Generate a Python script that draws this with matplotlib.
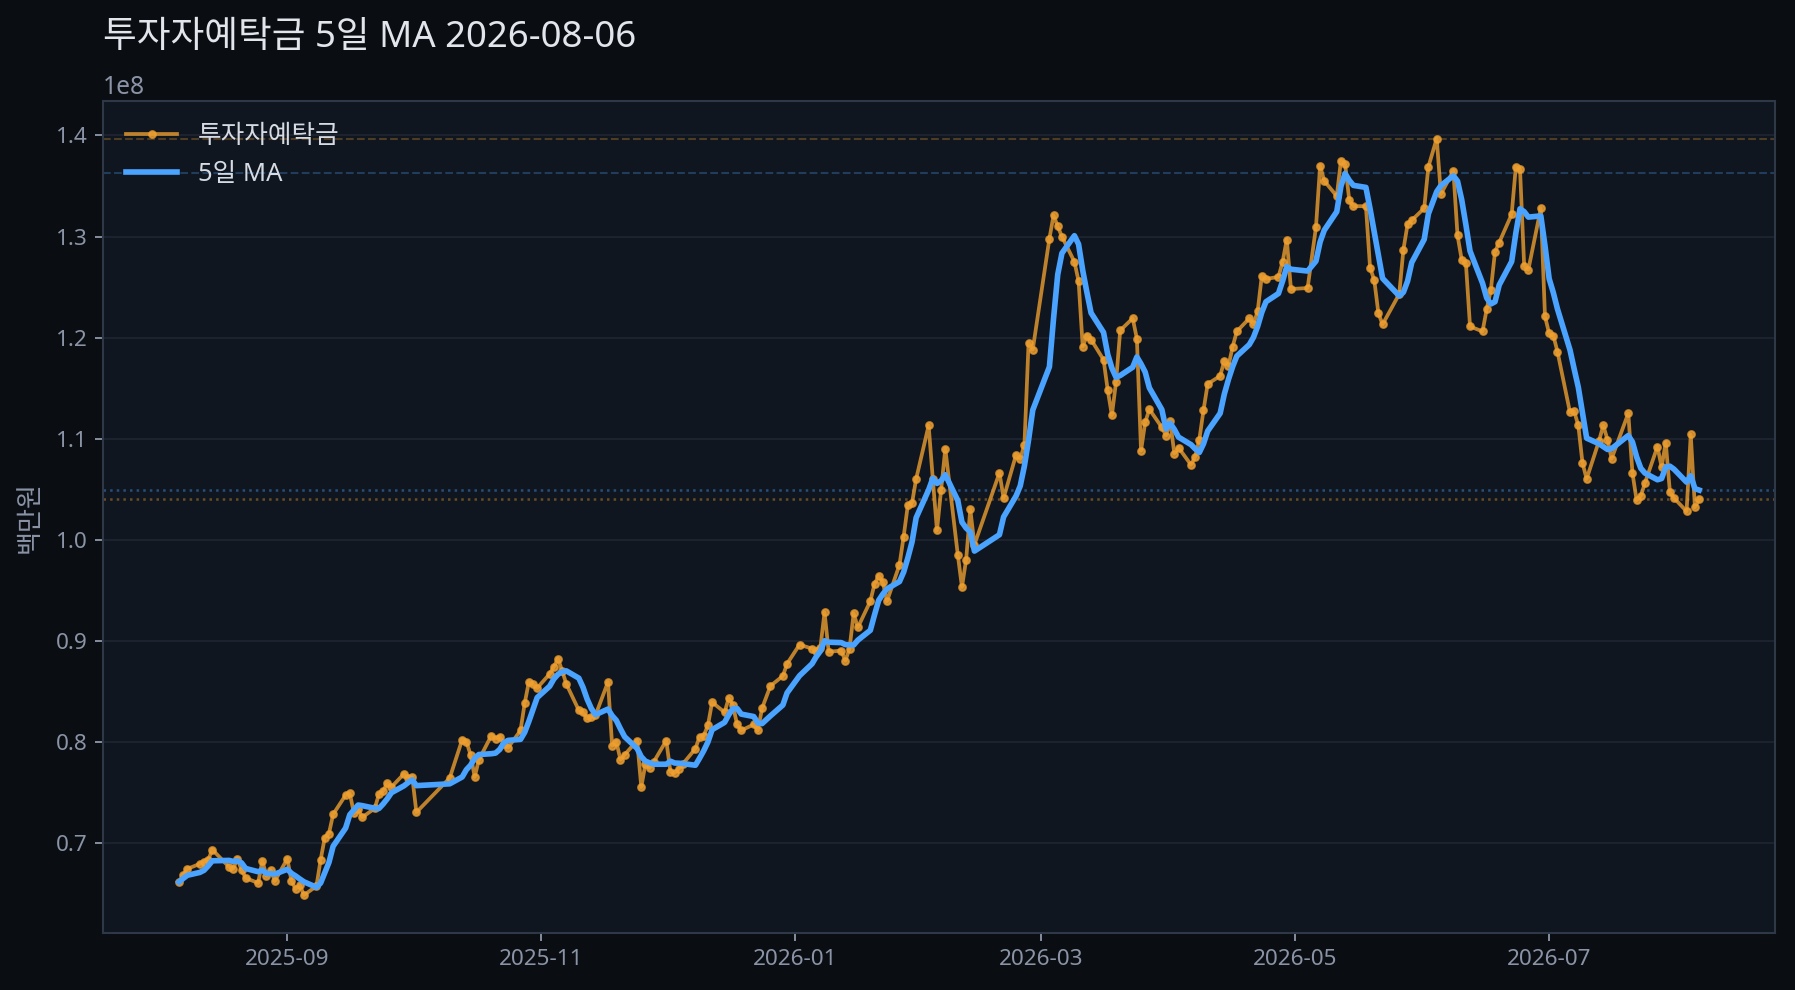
import numpy as np
import pandas as pd
import matplotlib
matplotlib.use("Agg")
import matplotlib.pyplot as plt
import matplotlib.dates as mdates

plt.rcParams['font.family'] = ['Noto Sans', 'Noto Sans CJK KR', 'DejaVu Sans']

title = "투자자예탁금 5일 MA 2026-08-06"
series_name = "투자자예탁금"
ma_name = "5일 MA"
y_label = "백만원"

start_date, end_date = "2025-08-06", "2026-08-06"
holidays = ["2025-08-15", "2025-10-03", "2025-10-06", "2025-10-07", "2025-10-08",
            "2025-10-09", "2025-12-25", "2025-12-31", "2026-01-01", "2026-02-16",
            "2026-02-17", "2026-02-18", "2026-03-02", "2026-05-01", "2026-05-05",
            "2026-05-25", "2026-06-03", "2026-07-17"]

unit = 1e8  # values below in units of 1e8 백만원
v_2025_08 = [0.661, 0.668, 0.674, 0.679, 0.681, 0.683, 0.693, 0.676, 0.674, 0.684,
             0.673, 0.665, 0.660, 0.682, 0.667, 0.673, 0.662]
v_2025_09 = [0.684, 0.662, 0.654, 0.658, 0.648, 0.657, 0.683, 0.705, 0.709, 0.728,
             0.747, 0.749, 0.729, 0.733, 0.725, 0.734, 0.748, 0.751, 0.759, 0.755,
             0.768, 0.764]
v_2025_10 = [0.765, 0.730, 0.764, 0.802, 0.800, 0.787, 0.765, 0.782, 0.806, 0.803,
             0.805, 0.798, 0.794, 0.811, 0.838, 0.859, 0.857, 0.853]
v_2025_11 = [0.867, 0.874, 0.882, 0.870, 0.857, 0.831, 0.829, 0.823, 0.824, 0.826,
             0.859, 0.796, 0.800, 0.782, 0.787, 0.801, 0.755, 0.778, 0.774, 0.780]
v_2025_12 = [0.801, 0.770, 0.769, 0.773, 0.778, 0.793, 0.805, 0.806, 0.816, 0.839,
             0.829, 0.843, 0.836, 0.817, 0.811, 0.817, 0.811, 0.833, 0.855, 0.865,
             0.877]
v_2026_01 = [0.896, 0.892, 0.890, 0.893, 0.928, 0.889, 0.890, 0.880, 0.892, 0.927,
             0.913, 0.939, 0.956, 0.964, 0.958, 0.939, 0.975, 1.003, 1.034, 1.036,
             1.060]
v_2026_02 = [1.113, 1.060, 1.009, 1.049, 1.090, 0.985, 0.953, 0.980, 1.030, 0.995,
             1.066, 1.041, 1.084, 1.080, 1.094, 1.195, 1.188]
v_2026_03 = [1.298, 1.321, 1.310, 1.300, 1.275, 1.256, 1.191, 1.202, 1.198, 1.178,
             1.148, 1.123, 1.156, 1.207, 1.219, 1.199, 1.088, 1.116, 1.129, 1.111,
             1.103]
v_2026_04 = [1.117, 1.085, 1.091, 1.074, 1.082, 1.099, 1.128, 1.154, 1.162, 1.177,
             1.172, 1.191, 1.206, 1.219, 1.213, 1.226, 1.261, 1.258, 1.260, 1.275,
             1.297, 1.248]
v_2026_05 = [1.249, 1.309, 1.370, 1.355, 1.340, 1.375, 1.372, 1.336, 1.330, 1.330,
             1.269, 1.257, 1.224, 1.213, 1.243, 1.287, 1.312, 1.316]
v_2026_06 = [1.328, 1.369, 1.397, 1.342, 1.365, 1.301, 1.277, 1.274, 1.211, 1.206,
             1.228, 1.247, 1.285, 1.294, 1.322, 1.369, 1.367, 1.271, 1.267, 1.328,
             1.221]
v_2026_07 = [1.204, 1.202, 1.186, 1.126, 1.127, 1.113, 1.076, 1.060, 1.098, 1.113,
             1.099, 1.080, 1.125, 1.066, 1.039, 1.043, 1.056, 1.092, 1.072, 1.096,
             1.047, 1.041]
v_2026_08 = [1.028, 1.104, 1.032, 1.040]

values = np.array(v_2025_08 + v_2025_09 + v_2025_10 + v_2025_11 + v_2025_12 +
                  v_2026_01 + v_2026_02 + v_2026_03 + v_2026_04 + v_2026_05 +
                  v_2026_06 + v_2026_07 + v_2026_08) * unit
dates = pd.bdate_range(start_date, end_date).difference(pd.to_datetime(holidays))
n = min(len(dates), len(values))
raw = pd.Series(values[:n], index=dates[:n])
ma = raw.rolling(5, min_periods=1).mean()

# colours
fig_bg = '#0a0d12'
ax_bg = '#10161f'
orange = '#f0a030'
blue = '#4aa3ff'
tick_c = '#8a94a6'
spine_c = '#2e3847'
grid_c = '#1d2430'
text_c = '#e2e6ec'

fig = plt.figure(figsize=(1795 / 150, 990 / 150), dpi=150, facecolor=fig_bg)
ax = fig.add_axes([0.0574, 0.0576, 0.9315, 0.8407])
ax.set_facecolor(ax_bg)

ax.axhline(raw.max(), ls='--', color=orange, alpha=0.28, lw=1.0, zorder=1)
ax.axhline(ma.max(), ls='--', color=blue, alpha=0.28, lw=1.0, zorder=1)
ax.axhline(raw.iloc[-1], ls=':', color=orange, alpha=0.4, lw=1.2, zorder=1)
ax.axhline(ma.iloc[-1], ls=':', color=blue, alpha=0.4, lw=1.2, zorder=1)

ax.plot(raw.index, raw.values, color=orange, lw=1.8, alpha=0.78, marker='o',
        ms=3.2, label=series_name, zorder=3)
ax.plot(ma.index, ma.values, color=blue, lw=2.7, label=ma_name, zorder=4)

ax.grid(axis='y', color=grid_c, lw=0.9)
ax.grid(axis='x', visible=False)
ax.set_axisbelow(True)

for sp in ax.spines.values():
    sp.set_color(spine_c)
    sp.set_linewidth(1.0)

ax.xaxis.set_major_locator(mdates.MonthLocator(bymonth=[1, 3, 5, 7, 9, 11]))
ax.xaxis.set_major_formatter(mdates.DateFormatter('%Y-%m'))
ax.tick_params(axis='both', colors=tick_c, labelsize=10.8, length=4, width=0.9)
ax.yaxis.get_offset_text().set_color(tick_c)
ax.yaxis.get_offset_text().set_fontsize(11.8)

ax.set_ylabel(y_label, color=tick_c, fontsize=12.5, labelpad=6)
ax.set_title(title, loc='left', color=text_c, fontsize=17.6, pad=26)

leg = ax.legend(loc='upper left', frameon=False, fontsize=12.3, handlelength=2.0)
for t in leg.get_texts():
    t.set_color('#d6dbe3')

fig.savefig('out.png', dpi=150, facecolor=fig_bg)
